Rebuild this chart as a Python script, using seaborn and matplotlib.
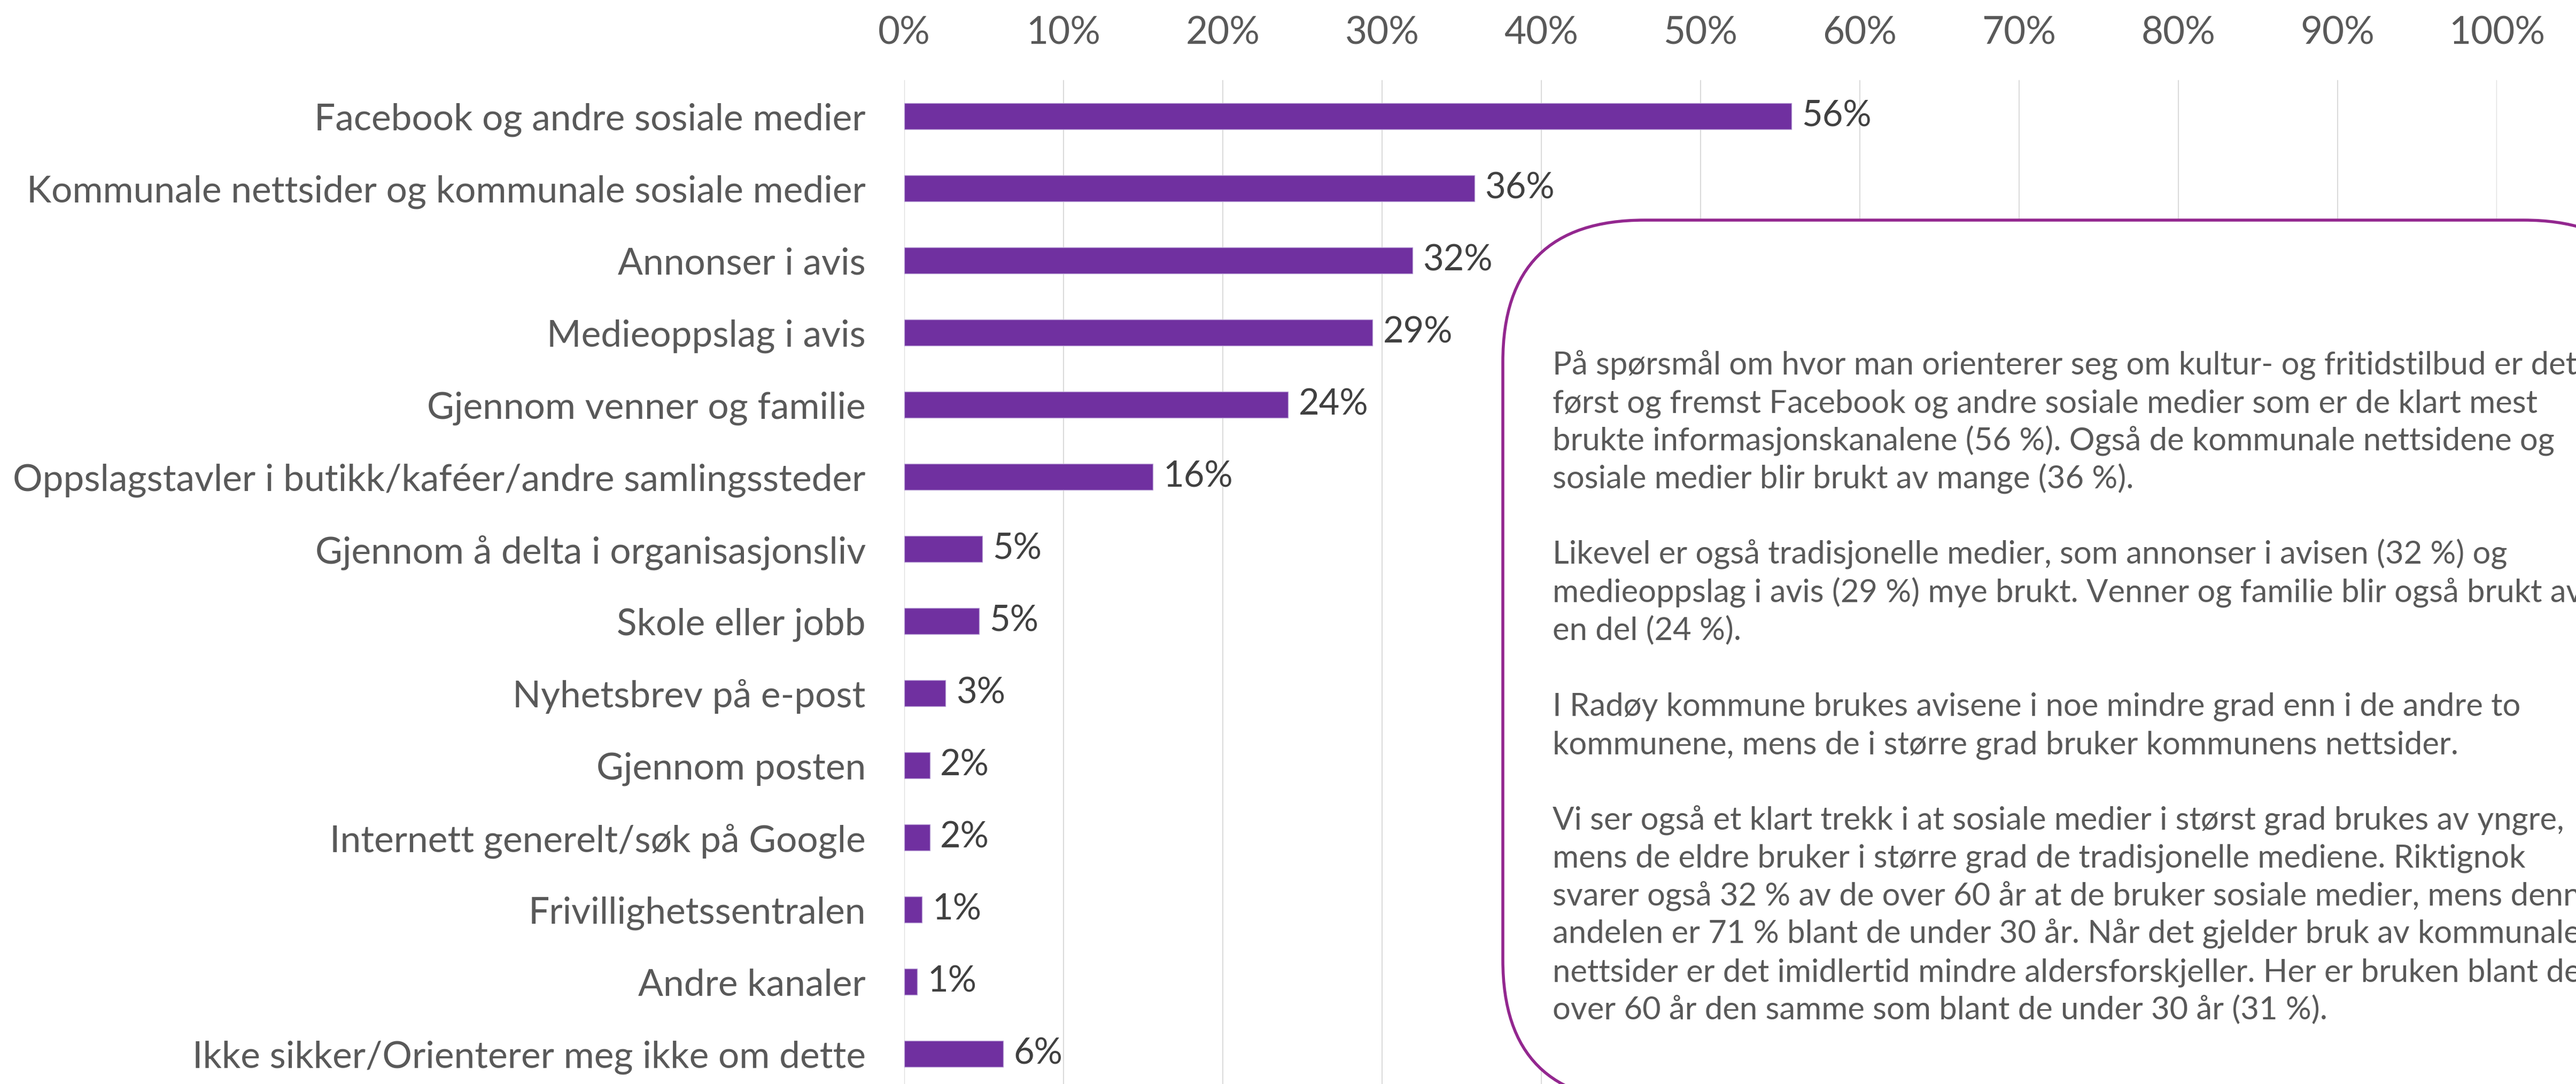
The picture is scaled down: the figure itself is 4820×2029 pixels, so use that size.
import matplotlib
matplotlib.use("Agg")
import matplotlib.pyplot as plt
from matplotlib.patches import FancyBboxPatch
from matplotlib.transforms import IdentityTransform
from matplotlib.ticker import PercentFormatter
import seaborn as sns
import pandas as pd

categories = [
    "Facebook og andre sosiale medier",
    "Kommunale nettsider og kommunale sosiale medier",
    "Annonser i avis",
    "Medieoppslag i avis",
    "Gjennom venner og familie",
    "Oppslagstavler i butikk/kaféer/andre samlingssteder",
    "Gjennom å delta i organisasjonsliv",
    "Skole eller jobb",
    "Nyhetsbrev på e-post",
    "Gjennom posten",
    "Internett generelt/søk på Google",
    "Frivillighetssentralen",
    "Andre kanaler",
    "Ikke sikker/Orienterer meg ikke om dette",
]
shares = [55.7, 35.8, 31.9, 29.4, 24.1, 15.6, 4.9, 4.7, 2.6, 1.6, 1.6, 1.1, 0.8, 6.2]
xticks = [0, 10, 20, 30, 40, 50, 60, 70, 80, 90, 100]

comment_lines = [
    "På spørsmål om hvor man orienterer seg om kultur- og fritidstilbud er det",
    "først og fremst Facebook og andre sosiale medier som er de klart mest",
    "brukte informasjonskanalene (56 %). Også de kommunale nettsidene og",
    "sosiale medier blir brukt av mange (36 %).",
    "",
    "Likevel er også tradisjonelle medier, som annonser i avisen (32 %) og",
    "medieoppslag i avis (29 %) mye brukt. Venner og familie blir også brukt av",
    "en del (24 %).",
    "",
    "I Radøy kommune brukes avisene i noe mindre grad enn i de andre to",
    "kommunene, mens de i større grad bruker kommunens nettsider.",
    "",
    "Vi ser også et klart trekk i at sosiale medier i størst grad brukes av yngre,",
    "mens de eldre bruker i større grad de tradisjonelle mediene. Riktignok",
    "svarer også 32 % av de over 60 år at de bruker sosiale medier, mens denne",
    "andelen er 71 % blant de under 30 år. Når det gjelder bruk av kommunale",
    "nettsider er det imidlertid mindre aldersforskjeller. Her er bruken blant de",
    "over 60 år den samme som blant de under 30 år (31 %).",
]

sns.set_theme(style="white")
plt.rcParams["font.family"] = ["Lato", "DejaVu Sans"]

W, H = 4820, 2029
fig = plt.figure(figsize=(W / 100, H / 100), dpi=100)
fig.patch.set_facecolor("white")
ax = fig.add_axes([1692 / W, -11 / H, 2980 / W, 1890 / H])

df = pd.DataFrame({"kanal": categories, "andel": shares})
sns.barplot(data=df, x="andel", y="kanal", orient="h", color="#7030A0",
            width=0.36, edgecolor="#B9A0D6", linewidth=1.0, saturation=1, ax=ax)

ax.set_xlim(0, 100)
ax.set_ylim(len(categories) - 0.5, -0.5)
ax.set_xticks(xticks)
ax.xaxis.set_major_formatter(PercentFormatter(decimals=0))
ax.xaxis.tick_top()
ax.tick_params(axis="x", length=0, pad=40, labelsize=51, labelcolor="#595959")
ax.tick_params(axis="y", length=0, pad=52, labelsize=50, labelcolor="#595959")
ax.grid(axis="x", color="#D9D9D9", linewidth=1.4)
ax.set_axisbelow(True)
for s in ax.spines.values():
    s.set_visible(False)
ax.set_xlabel("")
ax.set_ylabel("")

ax.bar_label(ax.containers[0], labels=[f"{v:.0f}%" for v in shares],
             padding=14, fontsize=48, color="#404040")

# kommentarboks
box = FancyBboxPatch((2812, H - 2062), 2175, 2062 - 412,
                     boxstyle="round,pad=0,rounding_size=265",
                     transform=IdentityTransform(), facecolor="white",
                     edgecolor="#93278F", linewidth=4.0, zorder=5)
fig.patches.append(box)
for i, line in enumerate(comment_lines):
    if line:
        fig.text(2905 / W, 1 - (701 + i * 71.0) / H, line, fontsize=43,
                 color="#595959", va="baseline", ha="left", zorder=6)

fig.savefig("out.png", dpi=100, facecolor="white")
